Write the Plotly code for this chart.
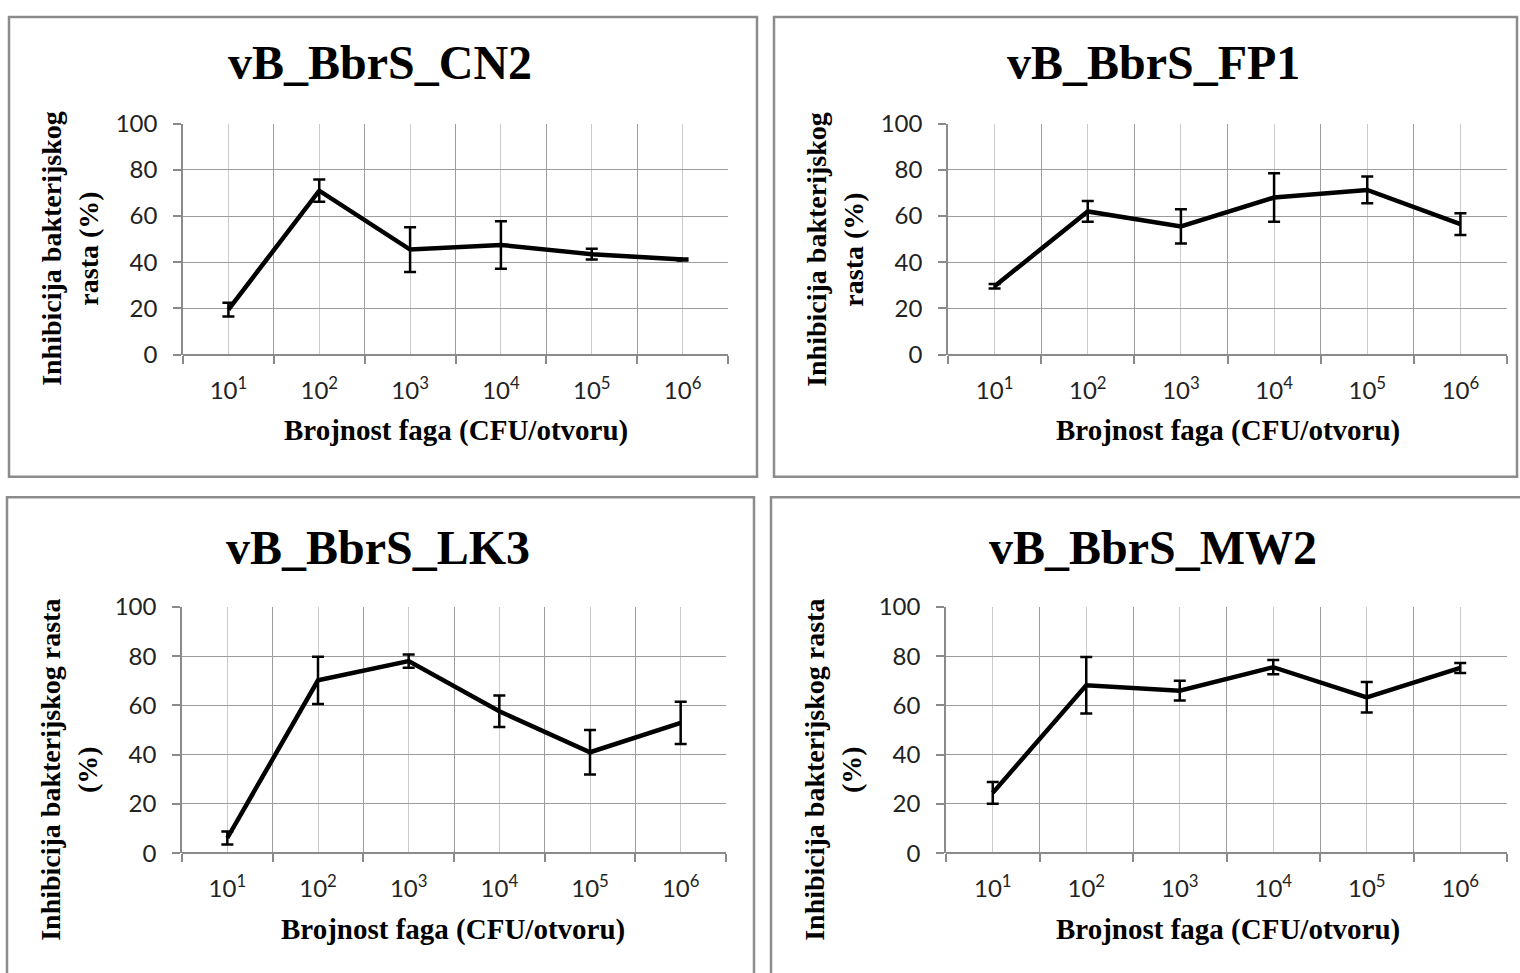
import plotly.graph_objects as go

W, H = 1520, 973

categories = ["10<sup>1</sup>", "10<sup>2</sup>", "10<sup>3</sup>", "10<sup>4</sup>", "10<sup>5</sup>", "10<sup>6</sup>"]
x_pos = [1, 2, 3, 4, 5, 6]

titles = ["vB_BbrS_CN2", "vB_BbrS_FP1", "vB_BbrS_LK3", "vB_BbrS_MW2"]

cn2_vals = [19.5, 71, 45.5, 47.5, 43.5, 41.2]
cn2_err = [3, 4.8, 9.7, 10.3, 2.3, 0.4]
fp1_vals = [29.6, 62, 55.5, 68, 71.3, 56.5]
fp1_err = [1, 4.5, 7.4, 10.5, 5.8, 4.7]
lk3_vals = [6.2, 70.2, 78, 57.6, 41, 52.9]
lk3_err = [2.6, 9.6, 2.7, 6.4, 9, 8.6]
mw2_vals = [24.5, 68.2, 66, 75.5, 63.3, 75.2]
mw2_err = [4.4, 11.5, 4, 2.9, 6.2, 2]

y_ticks = [0, 20, 40, 60, 80, 100]

x_title = "Brojnost faga (CFU/otvoru)"
y_title_top = "Inhibicija bakterijskog<br>rasta (%)"
y_title_bottom = "Inhibicija bakterijskog rasta<br>(%)"

series = [(cn2_vals, cn2_err), (fp1_vals, fp1_err), (lk3_vals, lk3_err), (mw2_vals, mw2_err)]

# pixel layout (figure pixels): plot areas (x0, x1, ytop, ybottom)
plot_px = [
    (183, 728, 111, 349),
    (948, 1507, 111, 349),
    (182, 726, 609, 863),
    (946, 1507, 609, 863),
]
boxes = [
    (9, 757, 1, 475),
    (774, 1517, 1, 475),
    (7, 754, 496, 1020),
    (771, 1530, 496, 1020),
]
title_pos = [(380, 48), (1153, 48), (378, 548), (1153, 548)]
xtitle_pos = [(456, 427), (1228, 427), (453, 942), (1228, 942)]
ytitle_pos = [(70, 240), (835, 240), (69, 777), (833, 777)]
ytitle_txt = [y_title_top, y_title_top, y_title_bottom, y_title_bottom]

def px(x):
    return x / W

def py(y):
    return 1 - y / H

fig = go.Figure()
layout = dict(
    width=W, height=H, margin=dict(l=0, r=0, t=0, b=0),
    paper_bgcolor="white", plot_bgcolor="white", showlegend=False,
    shapes=[], annotations=[],
)

tick_font = dict(family="Lato, Open Sans, sans-serif", size=24, color="#222")
serif_b = "Liberation Serif, Times New Roman, serif"

for i, ((vals, errs), (x0, x1, yt, yb)) in enumerate(zip(series, plot_px)):
    n = "" if i == 0 else str(i + 1)
    fig.add_trace(go.Scatter(
        x=x_pos, y=vals, mode="lines",
        line=dict(color="black", width=4.5),
        error_y=dict(type="data", array=errs, visible=True, color="black", thickness=2.5, width=6),
        xaxis="x" + n, yaxis="y" + n, hoverinfo="skip",
    ))
    layout["xaxis" + n] = dict(
        domain=[px(x0), px(x1)], anchor="y" + n, range=[0.5, 6.5],
        tickvals=x_pos, ticktext=categories, ticks="",
        showgrid=True, gridcolor="#cacaca", gridwidth=1.2,
        showline=False, zeroline=False, tickfont=tick_font,
        ticklabelstandoff=19,
        minor=dict(tickvals=[0.5, 1.5, 2.5, 3.5, 4.5, 5.5, 6.5], showgrid=True,
                   gridcolor="#9c9c9c", gridwidth=1.2, ticks="outside", ticklen=8,
                   tickcolor="#8a8a8a", tickwidth=1.5),
        fixedrange=True,
    )
    layout["yaxis" + n] = dict(
        domain=[py(yb), py(yt)], anchor="x" + n, range=[0, 100],
        tickvals=y_ticks, ticks="outside", ticklen=8, tickcolor="#8a8a8a", tickwidth=1.5,
        showgrid=True, gridcolor="#9c9c9c", gridwidth=1.2,
        showline=True, linecolor="#8a8a8a", linewidth=1.5,
        zeroline=True, zerolinecolor="#8a8a8a", zerolinewidth=1.5,
        tickfont=tick_font, ticklabelstandoff=11, fixedrange=True,
    )
    bx0, bx1, by0, by1 = boxes[i]
    layout["shapes"].append(dict(
        type="rect", xref="paper", yref="paper",
        x0=px(bx0), x1=px(bx1), y0=py(by1), y1=py(by0),
        line=dict(color="#8c8c8c", width=2.5), fillcolor="rgba(0,0,0,0)", layer="above",
    ))
    tx, ty = title_pos[i]
    layout["annotations"].append(dict(
        text="<b>" + titles[i] + "</b>", x=px(tx), y=py(ty), xref="paper", yref="paper",
        xanchor="center", yanchor="middle", showarrow=False,
        font=dict(family=serif_b, size=48, color="black"),
    ))
    ax_, ay_ = xtitle_pos[i]
    layout["annotations"].append(dict(
        text="<b>" + x_title + "</b>", x=px(ax_), y=py(ay_), xref="paper", yref="paper",
        xanchor="center", yanchor="middle", showarrow=False,
        font=dict(family=serif_b, size=29, color="black"),
    ))
    yx, yy = ytitle_pos[i]
    layout["annotations"].append(dict(
        text="<b>" + ytitle_txt[i] + "</b>", x=px(yx), y=py(yy), xref="paper", yref="paper",
        xanchor="center", yanchor="middle", showarrow=False, textangle=-90, align="center",
        font=dict(family=serif_b, size=28, color="black"),
    ))

fig.update_layout(**layout)

page_fix = (
    "document.documentElement.style.margin='0';"
    "document.documentElement.style.overflow='hidden';"
    "document.body.style.margin='0';"
    "document.body.style.overflow='hidden';"
    "var d=document.getElementById('{plot_id}');"
    "d.style.position='absolute';d.style.left='0px';d.style.top='0px';"
)
fig.write_html("out.html", config={"displayModeBar": False}, post_script=page_fix)
